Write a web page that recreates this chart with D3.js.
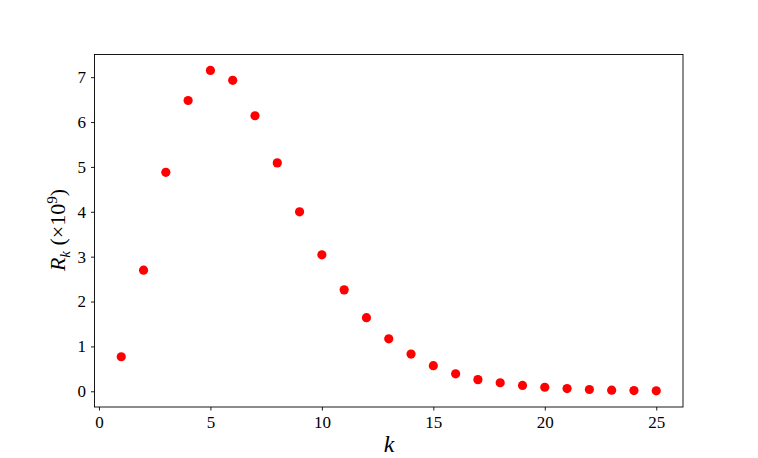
<!DOCTYPE html>
<html><head><meta charset="utf-8">
<script src="https://cdn.jsdelivr.net/npm/d3@7"></script>
<style>body{margin:0;background:#fff}svg{display:block}text{font-family:"Liberation Serif","DejaVu Serif",serif;fill:#000}</style>
</head><body><svg id="c" width="758" height="458"></svg>
<script>
const ks = d3.range(1, 26);
const values = [0.77,2.70,4.88,6.48,7.15,6.93,6.14,5.09,4.00,3.04,2.26,1.64,1.17,0.83,0.57,0.39,0.26,0.19,0.13,0.09,0.06,0.04,0.025,0.015,0.01];
const xTicks = [0,5,10,15,20,25];
const yTicks = [0,1,2,3,4,5,6,7];

const svg = d3.select("#c");
const L=94.5, R=683, T=54.5, B=407;
const x = d3.scaleLinear().domain([-0.2, 26.2]).range([L, R]);
const y = d3.scaleLinear().domain([-0.35, 7.505]).range([B, T]);

svg.append("g").selectAll("circle").data(ks).join("circle")
  .attr("cx", d=>x(d)).attr("cy", (d,i)=>y(values[i])).attr("r", 4.6).attr("fill", "#ff0000");

const xa = svg.append("g").attr("transform",`translate(0,${B})`)
  .call(d3.axisBottom(x).tickValues(xTicks).tickSize(3.5).tickPadding(5).tickFormat(d3.format("d")));
const ya = svg.append("g").attr("transform",`translate(${L},0)`)
  .call(d3.axisLeft(y).tickValues(yTicks).tickSize(3.5).tickPadding(5).tickFormat(d3.format("d")));
[xa,ya].forEach(a=>{a.select(".domain").remove();a.selectAll("line").attr("stroke","#000").attr("stroke-width",0.9);
  a.selectAll("text").style("font-size","17px").style("font-family","'Liberation Serif',serif");});

svg.append("rect").attr("x",L).attr("y",T).attr("width",R-L).attr("height",B-T)
  .attr("fill","none").attr("stroke","#000").attr("stroke-width",0.9);

svg.append("text").attr("x",389).attr("y",452).attr("text-anchor","middle")
  .style("font-size","24px").style("font-style","italic").text("k");

const yl = svg.append("text").attr("transform","translate(65,230) rotate(-90)").attr("text-anchor","middle").style("font-size","22px");
yl.append("tspan").style("font-style","italic").text("R");
yl.append("tspan").style("font-style","italic").style("font-size","15px").attr("dy",5).text("k");
yl.append("tspan").attr("dy",-5).text(" (×10");
yl.append("tspan").style("font-size","15px").attr("dy",-8).text("9");
yl.append("tspan").attr("dy",8).text(")");
</script></body></html>
